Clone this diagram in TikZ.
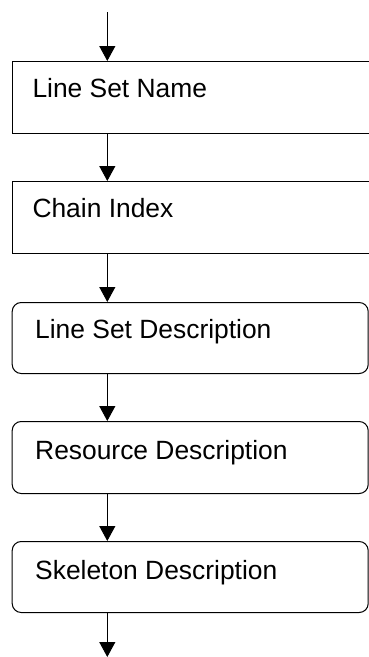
\documentclass[tikz,border=0pt]{standalone}
\usepackage{fontspec}
\setmainfont{Liberation Sans}
\usetikzlibrary{arrows.meta,calc}
\begin{document}
\begin{tikzpicture}[x=1pt,y=1pt,
  boxsq/.style={draw=black,line width=1pt,rectangle,anchor=north west,minimum width=364pt,inner sep=0pt},
  boxrd/.style={boxsq,minimum width=356pt,rounded corners=9pt},
  lbl/.style={anchor=base west,inner sep=0pt,font=\fontsize{26.4}{30}\selectfont},
  arr/.style={line width=1pt,-{Triangle[width=16pt,length=15pt]}}]
\useasboundingbox[clip] (0,0) rectangle (369,-657);
\coordinate (top) at (107.3,-12);
\coordinate (bot) at (107.3,-657);
\node[boxsq,minimum height=72pt] (n1) at (11.7,-61) {};
\node[boxsq,minimum height=72pt] (n2) at (11.7,-181) {};
\node[boxrd,minimum height=71pt] (n3) at (11.7,-302) {};
\node[boxrd,minimum height=72pt] (n4) at (11.7,-421) {};
\node[boxrd,minimum height=71pt] (n5) at (11.7,-541) {};
\node[lbl] (t1) at (32.3,-97) {Line Set Name};
\node[lbl] (t2) at (32.3,-217) {Chain Index};
\node[lbl] (t3) at (35,-338) {Line Set Description};
\node[lbl] (t4) at (35,-459) {Resource Description};
\node[lbl] (t5) at (35,-579) {Skeleton Description};
\draw[arr] (top) -- (top |- n1.north);
\draw[arr] (n1.south -| top) -- (n2.north -| top);
\draw[arr] (n2.south -| top) -- (n3.north -| top);
\draw[arr] (n3.south -| top) -- (n4.north -| top);
\draw[arr] (n4.south -| top) -- (n5.north -| top);
\draw[arr] (n5.south -| top) -- (bot);
\end{tikzpicture}
\end{document}
